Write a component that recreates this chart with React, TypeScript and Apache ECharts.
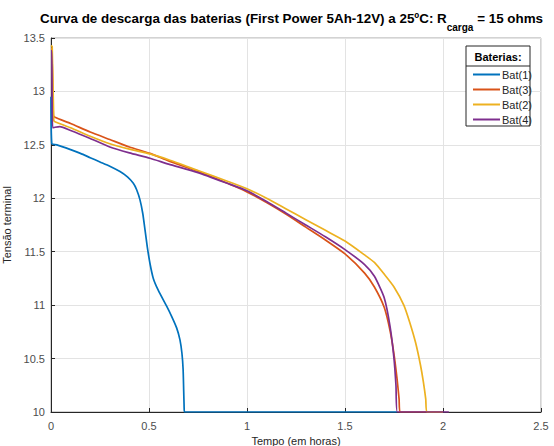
import React, { useEffect, useRef } from "react";
import * as echarts from "echarts";

const xTicks = { min: 0, max: 2.5, step: 0.5 };
const yTicks = { min: 10, max: 13.5, step: 0.5 };

const seriesNames = ["Bat(1)", "Bat(3)", "Bat(2)", "Bat(4)"];
const seriesColors = ["#0072BD", "#D95319", "#EDB120", "#7E2F8E"];

const bat1Time = [0, 0.004, 0.03, 0.1, 0.15, 0.2, 0.25, 0.3, 0.352, 0.39, 0.42, 0.437, 0.454, 0.468, 0.48, 0.491, 0.505, 0.522, 0.547, 0.59, 0.616, 0.641, 0.658, 0.668, 0.674, 0.677, 0.679, 0.681, 1.765];
const bat1Volt = [12.95, 12.51, 12.5, 12.455, 12.42, 12.38, 12.34, 12.3, 12.25, 12.2, 12.14, 12.08, 11.985, 11.86, 11.7, 11.548, 11.39, 11.25, 11.14, 10.99, 10.893, 10.787, 10.675, 10.55, 10.4, 10.2, 10.06, 10.0, 10.0];

const bat3Time = [0, 0.004, 0.012, 0.02, 0.1, 0.2, 0.3, 0.4, 0.505, 0.6, 0.75, 0.9, 1.0, 1.1, 1.2, 1.3, 1.4, 1.5, 1.6, 1.65, 1.7, 1.73, 1.75, 1.765, 1.776, 1.781, 2.0];
const bat3Volt = [13.4, 13.4, 12.78, 12.758, 12.7, 12.62, 12.55, 12.48, 12.42, 12.35, 12.25, 12.14, 12.06, 11.96, 11.85, 11.73, 11.61, 11.48, 11.3, 11.17, 10.98, 10.76, 10.54, 10.32, 10.12, 10.0, 10.0];

const bat2Time = [0, 0.006, 0.014, 0.02, 0.1, 0.2, 0.3, 0.4, 0.505, 0.6, 0.75, 0.9, 1.0, 1.1, 1.2, 1.3, 1.4, 1.5, 1.6, 1.65, 1.7, 1.75, 1.8, 1.83, 1.86, 1.885, 1.9, 1.912, 1.918, 2.0];
const bat2Volt = [13.43, 13.42, 12.73, 12.717, 12.66, 12.58, 12.51, 12.46, 12.415, 12.36, 12.26, 12.16, 12.09, 12.0, 11.9, 11.8, 11.7, 11.6, 11.47, 11.4, 11.29, 11.17, 11.0, 10.84, 10.65, 10.44, 10.28, 10.12, 10.0, 10.0];

const bat4Time = [0, 0.004, 0.008, 0.02, 0.045, 0.1, 0.2, 0.3, 0.4, 0.505, 0.6, 0.75, 0.9, 1.0, 1.1, 1.2, 1.3, 1.4, 1.5, 1.6, 1.65, 1.7, 1.73, 1.75, 1.76, 1.767, 2.03];
const bat4Volt = [13.38, 13.38, 12.66, 12.665, 12.67, 12.635, 12.56, 12.48, 12.425, 12.375, 12.32, 12.24, 12.14, 12.07, 11.97, 11.86, 11.75, 11.64, 11.52, 11.38, 11.27, 11.07, 10.8, 10.5, 10.25, 10.0, 10.0];

const allTimes = [bat1Time, bat3Time, bat2Time, bat4Time];
const allVolts = [bat1Volt, bat3Volt, bat2Volt, bat4Volt];

const FONT = "'Liberation Sans', Arial, Helvetica, sans-serif";

export default function App() {
  const ref = useRef<HTMLDivElement>(null);
  useEffect(() => {
    if (!ref.current) return;
    const chart = echarts.init(ref.current, null, { renderer: "svg" });
    const series = seriesNames.map((name, i) => ({
      name,
      type: "line",
      data: allTimes[i].map((t, k) => [t, allVolts[i][k]]),
      showSymbol: false,
      symbol: "none",
      smooth: 0.2,
      lineStyle: { width: 1.7, color: seriesColors[i] },
      itemStyle: { color: seriesColors[i] },
      z: 2 + i,
    }));
    chart.setOption({
      animation: false,
      textStyle: { fontFamily: FONT },
      title: {
        text: "Curva de descarga das baterias (First Power 5Ah-12V) a 25ºC: R{sub|carga} = 15 ohms",
        left: 35,
        top: 5,
        textStyle: {
          fontFamily: FONT,
          fontSize: 13.4,
          fontWeight: "bold",
          color: "#000",
          lineHeight: 16,
          rich: {
            sub: {
              fontFamily: FONT,
              fontSize: 10,
              fontWeight: "bold",
              color: "#000",
              verticalAlign: "top",
              padding: [12, 0, 0, 0],
            },
          },
        },
      },
      grid: {
        left: 51,
        right: 13,
        top: 38,
        bottom: 34,
        show: true,
        borderColor: "#a6a6a6",
        borderWidth: 1,
        backgroundColor: "#fff",
        outerBoundsMode: "none",
        containLabel: false,
      },
      legend: {
        data: seriesNames,
        orient: "vertical",
        left: 468,
        top: 62,
        icon: "rect",
        itemWidth: 27,
        itemHeight: 2,
        itemGap: 0,
        textStyle: { fontFamily: FONT, fontSize: 11, color: "#262626", lineHeight: 15, padding: [0, 0, 0, -3] },
        z: 6,
      },
      graphic: [
        {
          type: "rect",
          shape: { x: 466, y: 46, width: 64, height: 80 },
          style: { fill: "#fff", stroke: "#262626", lineWidth: 1 },
          z: 5,
        },
        {
          type: "line",
          shape: { x1: 466, y1: 66, x2: 530, y2: 66 },
          style: { stroke: "#262626", lineWidth: 1 },
          z: 5,
        },
        {
          type: "text",
          x: 498,
          y: 57,
          style: {
            text: "Baterias:",
            font: "bold 11px " + FONT,
            fill: "#000",
            align: "center",
            verticalAlign: "middle",
          },
          z: 6,
        },
      ],
      xAxis: {
        type: "value",
        min: xTicks.min,
        max: xTicks.max,
        interval: xTicks.step,
        name: "Tempo (em horas)",
        nameLocation: "middle",
        nameGap: 20,
        nameTextStyle: { fontFamily: FONT, fontSize: 11, color: "#262626" },
        axisLine: { show: true, lineStyle: { color: "#262626", width: 1 } },
        axisTick: { show: true, inside: true, length: 4, lineStyle: { color: "#262626" } },
        axisLabel: { fontFamily: FONT, fontSize: 11, color: "#4d4d4d", margin: 8 },
        splitLine: { show: true, lineStyle: { color: "#e3e3e3", width: 1 } },
      },
      yAxis: {
        type: "value",
        min: yTicks.min,
        max: yTicks.max,
        interval: yTicks.step,
        name: "Tensão terminal",
        nameLocation: "middle",
        nameGap: 36,
        nameTextStyle: { fontFamily: FONT, fontSize: 11, color: "#262626" },
        axisLine: { show: true, lineStyle: { color: "#262626", width: 1 } },
        axisTick: { show: true, inside: true, length: 4, lineStyle: { color: "#262626" } },
        axisLabel: { fontFamily: FONT, fontSize: 11, color: "#4d4d4d", margin: 6 },
        splitLine: { show: true, lineStyle: { color: "#e3e3e3", width: 1 } },
      },
      series,
    });
    return () => chart.dispose();
  }, []);
  return <div ref={ref} style={{ width: 554, height: 446, position: "absolute", left: 0, top: 0 }} />;
}
